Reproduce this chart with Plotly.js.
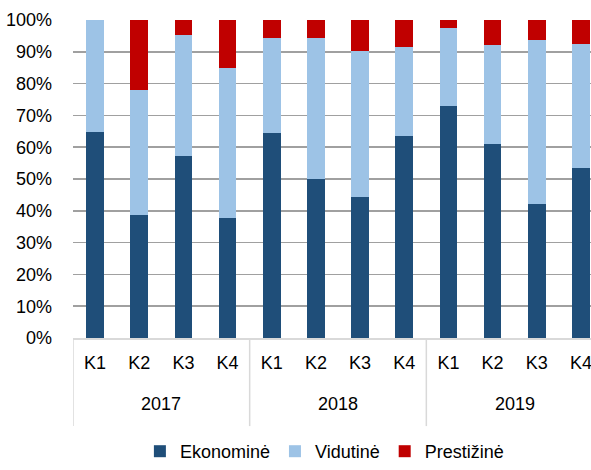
<!DOCTYPE html>
<html>
<head>
<meta charset="utf-8">
<script src="https://cdn.plot.ly/plotly-3.0.1.min.js"></script>
<style>
html,body{margin:0;padding:0;overflow:hidden;background:#fff;width:591px;height:470px;}
#chart{width:603px;height:470px;}
</style>
</head>
<body>
<div id="chart"></div>
<script>
const years = ["2017","2017","2017","2017","2018","2018","2018","2018","2019","2019","2019","2019"];
const quarters = ["K1","K2","K3","K4","K1","K2","K3","K4","K1","K2","K3","K4"];
const yearLabels = ["2017","2018","2019"];
const ekonomine = [64.8, 38.7, 57.2, 37.6, 64.4, 50.1, 44.4, 63.5, 73.0, 61.1, 42.1, 53.5];
const vidutine  = [35.2, 39.3, 38.1, 47.4, 30.0, 44.2, 45.9, 28.1, 24.6, 30.9, 51.5, 38.9];
const prestizine = [0.0, 22.0, 4.7, 15.0, 5.6, 5.7, 9.7, 8.4, 2.4, 8.0, 6.4, 7.6];
const seriesNames = ["Ekonominė", "Vidutinė", "Prestižinė"];
const colors = ["#1F4E79", "#9DC3E6", "#C00000"];

const FONT = "Liberation Sans, Arial, sans-serif";
const FS = 18;
const cats = years.map((y, i) => y + " " + quarters[i]);
const data = [ekonomine, vidutine, prestizine].map((vals, i) => ({
  type: "bar",
  name: seriesNames[i],
  x: cats,
  y: vals,
  marker: {color: colors[i], line: {width: 0}},
  hoverinfo: "y+name"
}));

// group geometry derived from the categories
const groupStarts = [];
years.forEach((y, i) => { if (i === 0 || years[i - 1] !== y) groupStarts.push(i); });
const shapes = groupStarts.map(s => ({
  type: "line", xref: "x", yref: "paper",
  x0: s - 0.5, x1: s - 0.5, y0: 0, y1: -0.277,
  line: {color: "#D9D9D9", width: 1.5}
}));
const annotations = yearLabels.map(yl => {
  const idx = years.map((y, i) => y === yl ? i : -1).filter(i => i >= 0);
  const mid = (idx[0] + idx[idx.length - 1]) / 2;
  return {
    text: yl, xref: "x", yref: "paper", x: mid, y: -0.208,
    showarrow: false, xanchor: "center", yanchor: "middle",
    font: {family: FONT, size: FS, color: "#000"}
  };
});

const layout = {
  width: 603,
  height: 470,
  margin: {l: 73, r: 0, t: 20, b: 132},
  barmode: "stack",
  bargap: 0.6,
  paper_bgcolor: "#fff",
  plot_bgcolor: "#fff",
  font: {family: FONT, size: FS, color: "#000"},
  xaxis: {
    type: "category",
    range: [-0.5, 11.5],
    tickvals: cats,
    ticktext: quarters,
    showline: true,
    linecolor: "#D9D9D9",
    linewidth: 1.5,
    ticks: "",
    ticklabelstandoff: 8,
    tickfont: {family: FONT, size: FS, color: "#000"},
    showgrid: false,
    zeroline: false,
    automargin: false,
    fixedrange: true
  },
  yaxis: {
    range: [0, 100],
    tick0: 0,
    dtick: 10,
    ticksuffix: "%",
    showgrid: true,
    gridcolor: "#A0A0A0",
    gridwidth: 1.5,
    zeroline: false,
    showline: false,
    ticks: "",
    ticklabelstandoff: 20,
    tickfont: {family: FONT, size: FS, color: "#000"},
    automargin: false,
    fixedrange: true
  },
  shapes: shapes,
  annotations: annotations,
  showlegend: true,
  legend: {
    orientation: "h",
    xref: "container",
    yref: "container",
    x: 0.232,
    xanchor: "left",
    y: 0.0,
    yanchor: "bottom",
    font: {family: FONT, size: FS, color: "#000"},
    traceorder: "normal"
  }
};

Plotly.newPlot("chart", data, layout, {displayModeBar: false, staticPlot: true});
</script>
</body>
</html>
